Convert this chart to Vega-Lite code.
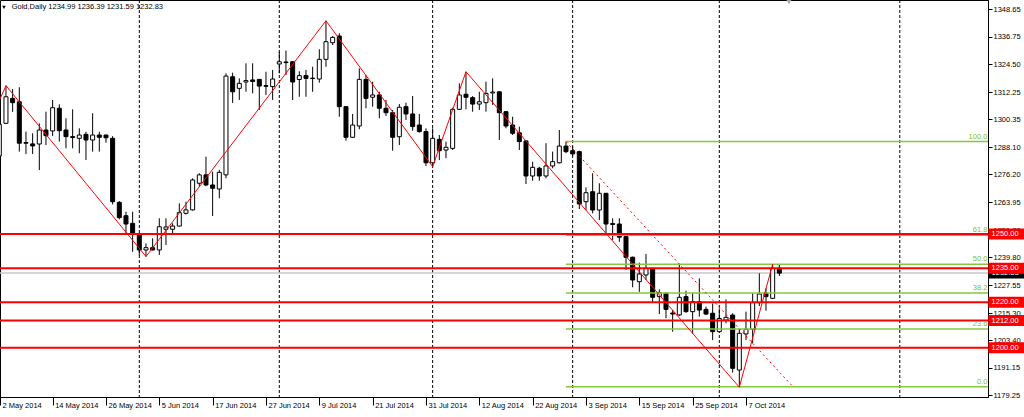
{
  "$schema": "https://vega.github.io/schema/vega-lite/v6.json",
  "width": 988,
  "height": 397,
  "autosize": {"type": "none"},
  "padding": {"left": 0, "top": 0, "right": 36, "bottom": 20},
  "background": "white",
  "config": {"view": {"stroke": "black", "strokeWidth": 1}, "font": "Liberation Sans",
    "scale": {"continuousPadding": 0},
    "axis": {"grid": false, "labelFontSize": 7.5, "labelColor": "#000000", "labelFont": "Liberation Sans", "domainColor": "#000000", "tickColor": "#000000", "labelOverlap": false, "labelFlush": false, "labelBound": false}},
  "datasets": {
    "candles": [
      {"i":0,"o":1284.3,"h":1299.0,"l":1283.0,"c":1298.2},
      {"i":1,"o":1298.65,"h":1315.2,"l":1298.4,"c":1310.3},
      {"i":2,"o":1309.6,"h":1313.7,"l":1303.7,"c":1307.7},
      {"i":3,"o":1308.1,"h":1314.5,"l":1286.2,"c":1289.9},
      {"i":4,"o":1290.2,"h":1295.0,"l":1285.2,"c":1289.9},
      {"i":5,"o":1289.6,"h":1294.25,"l":1285.2,"c":1288.7},
      {"i":6,"o":1289.55,"h":1298.65,"l":1278.1,"c":1295.7},
      {"i":7,"o":1295.7,"h":1303.75,"l":1289.1,"c":1293.2},
      {"i":8,"o":1295.3,"h":1308.9,"l":1293.1,"c":1305.5},
      {"i":9,"o":1305.25,"h":1307.0,"l":1290.6,"c":1295.4},
      {"i":10,"o":1295.7,"h":1300.85,"l":1287.65,"c":1292.8},
      {"i":11,"o":1292.8,"h":1304.8,"l":1287.65,"c":1292.4},
      {"i":12,"o":1292.05,"h":1296.45,"l":1285.5,"c":1293.5},
      {"i":13,"o":1293.8,"h":1294.95,"l":1282.5,"c":1291.3},
      {"i":14,"o":1291.3,"h":1303.05,"l":1286.2,"c":1293.5},
      {"i":15,"o":1293.5,"h":1294.95,"l":1286.2,"c":1292.5},
      {"i":16,"o":1293.5,"h":1293.6,"l":1290.1,"c":1292.3},
      {"i":17,"o":1292.05,"h":1293.0,"l":1263.0,"c":1264.2},
      {"i":18,"o":1263.9,"h":1264.5,"l":1256.5,"c":1257.2},
      {"i":19,"o":1258.05,"h":1259.8,"l":1250.3,"c":1254.4},
      {"i":20,"o":1254.7,"h":1259.8,"l":1242.2,"c":1250.0},
      {"i":21,"o":1250.0,"h":1250.5,"l":1240.6,"c":1243.0},
      {"i":22,"o":1243.0,"h":1245.9,"l":1240.1,"c":1244.0},
      {"i":23,"o":1244.0,"h":1248.1,"l":1242.8,"c":1243.0},
      {"i":24,"o":1243.0,"h":1256.9,"l":1240.8,"c":1253.2},
      {"i":25,"o":1252.1,"h":1256.9,"l":1245.2,"c":1253.1},
      {"i":26,"o":1252.1,"h":1254.7,"l":1250.3,"c":1253.5},
      {"i":27,"o":1253.5,"h":1263.5,"l":1253.3,"c":1259.4},
      {"i":28,"o":1259.1,"h":1264.2,"l":1258.6,"c":1260.6},
      {"i":29,"o":1260.6,"h":1274.5,"l":1260.3,"c":1273.75},
      {"i":30,"o":1272.3,"h":1276.7,"l":1270.8,"c":1276.0},
      {"i":31,"o":1276.0,"h":1284.0,"l":1271.0,"c":1271.55},
      {"i":32,"o":1271.55,"h":1277.4,"l":1257.9,"c":1270.1},
      {"i":33,"o":1269.8,"h":1278.2,"l":1265.7,"c":1277.1},
      {"i":34,"o":1276.0,"h":1320.6,"l":1274.5,"c":1319.4},
      {"i":35,"o":1319.1,"h":1320.9,"l":1307.6,"c":1312.5},
      {"i":36,"o":1314.0,"h":1318.4,"l":1308.9,"c":1316.2},
      {"i":37,"o":1316.8,"h":1325.0,"l":1312.5,"c":1317.4},
      {"i":38,"o":1317.7,"h":1325.0,"l":1311.8,"c":1317.0},
      {"i":39,"o":1317.95,"h":1318.0,"l":1304.5,"c":1315.0},
      {"i":40,"o":1315.2,"h":1321.3,"l":1311.1,"c":1314.9},
      {"i":41,"o":1314.75,"h":1322.1,"l":1308.9,"c":1318.1},
      {"i":42,"o":1324.7,"h":1330.1,"l":1320.6,"c":1325.7},
      {"i":43,"o":1325.6,"h":1330.6,"l":1319.9,"c":1325.3},
      {"i":44,"o":1325.7,"h":1325.9,"l":1308.9,"c":1316.8},
      {"i":45,"o":1317.9,"h":1321.5,"l":1310.3,"c":1319.6},
      {"i":46,"o":1319.6,"h":1322.1,"l":1310.3,"c":1318.4},
      {"i":47,"o":1318.5,"h":1323.5,"l":1312.5,"c":1318.3},
      {"i":48,"o":1318.1,"h":1331.2,"l":1316.5,"c":1326.75},
      {"i":49,"o":1326.75,"h":1343.7,"l":1323.5,"c":1334.5},
      {"i":50,"o":1334.05,"h":1337.0,"l":1333.05,"c":1336.4},
      {"i":51,"o":1337.0,"h":1338.2,"l":1301.55,"c":1305.95},
      {"i":52,"o":1305.95,"h":1306.2,"l":1291.0,"c":1292.5},
      {"i":53,"o":1292.5,"h":1302.75,"l":1292.2,"c":1297.9},
      {"i":54,"o":1297.45,"h":1322.8,"l":1296.0,"c":1317.95},
      {"i":55,"o":1317.95,"h":1319.9,"l":1305.25,"c":1309.6},
      {"i":56,"o":1310.1,"h":1316.95,"l":1305.95,"c":1311.1},
      {"i":57,"o":1311.1,"h":1312.5,"l":1300.85,"c":1305.25},
      {"i":58,"o":1305.25,"h":1308.9,"l":1301.85,"c":1303.3},
      {"i":59,"o":1303.3,"h":1304.5,"l":1286.6,"c":1292.5},
      {"i":60,"o":1292.75,"h":1307.1,"l":1289.1,"c":1305.7},
      {"i":61,"o":1305.95,"h":1307.7,"l":1300.1,"c":1302.75},
      {"i":62,"o":1302.75,"h":1310.65,"l":1295.4,"c":1297.2},
      {"i":63,"o":1297.9,"h":1302.75,"l":1294.55,"c":1295.0},
      {"i":64,"o":1295.0,"h":1296.45,"l":1279.9,"c":1281.3},
      {"i":65,"o":1281.3,"h":1296.45,"l":1279.6,"c":1292.05},
      {"i":66,"o":1291.6,"h":1293.5,"l":1282.5,"c":1286.6},
      {"i":67,"o":1286.9,"h":1290.6,"l":1283.3,"c":1288.1},
      {"i":68,"o":1287.65,"h":1305.5,"l":1286.9,"c":1304.8},
      {"i":69,"o":1304.8,"h":1316.2,"l":1304.5,"c":1311.1},
      {"i":70,"o":1311.4,"h":1321.3,"l":1304.8,"c":1310.1},
      {"i":71,"o":1309.9,"h":1310.6,"l":1303.75,"c":1307.1},
      {"i":72,"o":1307.1,"h":1312.5,"l":1304.5,"c":1308.1},
      {"i":73,"o":1307.7,"h":1316.95,"l":1303.75,"c":1311.8},
      {"i":74,"o":1312.0,"h":1318.4,"l":1306.7,"c":1312.4},
      {"i":75,"o":1312.5,"h":1312.6,"l":1291.3,"c":1303.3},
      {"i":76,"o":1303.75,"h":1304.0,"l":1296.45,"c":1297.45},
      {"i":77,"o":1297.9,"h":1301.55,"l":1293.5,"c":1294.25},
      {"i":78,"o":1294.5,"h":1297.2,"l":1286.9,"c":1290.6},
      {"i":79,"o":1290.9,"h":1291.2,"l":1272.0,"c":1275.5},
      {"i":80,"o":1275.5,"h":1281.8,"l":1273.4,"c":1279.3},
      {"i":81,"o":1278.9,"h":1279.6,"l":1273.4,"c":1275.5},
      {"i":82,"o":1275.5,"h":1289.9,"l":1274.5,"c":1279.9},
      {"i":83,"o":1279.9,"h":1286.2,"l":1278.9,"c":1281.8},
      {"i":84,"o":1281.3,"h":1295.7,"l":1281.0,"c":1288.65},
      {"i":85,"o":1288.65,"h":1290.6,"l":1285.5,"c":1286.2},
      {"i":86,"o":1286.6,"h":1288.4,"l":1284.3,"c":1285.2},
      {"i":87,"o":1286.2,"h":1286.6,"l":1261.0,"c":1263.2},
      {"i":88,"o":1264.2,"h":1270.5,"l":1260.55,"c":1268.15},
      {"i":89,"o":1268.6,"h":1276.7,"l":1259.1,"c":1260.55},
      {"i":90,"o":1260.55,"h":1272.3,"l":1256.15,"c":1267.9},
      {"i":91,"o":1267.9,"h":1268.0,"l":1250.3,"c":1254.4},
      {"i":92,"o":1254.6,"h":1256.9,"l":1247.4,"c":1254.2},
      {"i":93,"o":1254.4,"h":1256.9,"l":1246.6,"c":1248.6},
      {"i":94,"o":1248.85,"h":1249.1,"l":1234.2,"c":1239.8},
      {"i":95,"o":1239.8,"h":1240.1,"l":1226.6,"c":1229.8},
      {"i":96,"o":1229.05,"h":1237.4,"l":1224.6,"c":1232.45},
      {"i":97,"o":1232.0,"h":1241.2,"l":1229.8,"c":1234.95},
      {"i":98,"o":1234.95,"h":1235.0,"l":1219.85,"c":1222.2},
      {"i":99,"o":1222.5,"h":1225.7,"l":1214.85,"c":1224.25},
      {"i":100,"o":1223.95,"h":1224.2,"l":1213.0,"c":1216.9},
      {"i":101,"o":1215.3,"h":1216.6,"l":1207.1,"c":1214.85},
      {"i":102,"o":1214.45,"h":1236.8,"l":1214.0,"c":1222.2},
      {"i":103,"o":1222.5,"h":1225.1,"l":1215.4,"c":1215.9},
      {"i":104,"o":1215.9,"h":1224.2,"l":1206.1,"c":1220.3},
      {"i":105,"o":1220.3,"h":1230.5,"l":1213.7,"c":1216.6},
      {"i":106,"o":1216.9,"h":1218.1,"l":1214.4,"c":1214.85},
      {"i":107,"o":1215.2,"h":1219.5,"l":1203.4,"c":1207.1},
      {"i":108,"o":1207.1,"h":1217.35,"l":1206.9,"c":1212.9},
      {"i":109,"o":1212.2,"h":1221.3,"l":1210.8,"c":1213.4},
      {"i":110,"o":1214.4,"h":1215.2,"l":1189.1,"c":1191.0},
      {"i":111,"o":1190.25,"h":1208.15,"l":1182.7,"c":1206.4},
      {"i":112,"o":1206.1,"h":1215.9,"l":1203.4,"c":1208.15},
      {"i":113,"o":1208.15,"h":1223.95,"l":1202.0,"c":1219.85},
      {"i":114,"o":1219.85,"h":1232.75,"l":1218.4,"c":1223.65},
      {"i":115,"o":1224.0,"h":1226.15,"l":1216.3,"c":1222.5},
      {"i":116,"o":1221.75,"h":1236.8,"l":1221.5,"c":1234.95},
      {"i":117,"o":1234.99,"h":1236.39,"l":1231.59,"c":1232.83}
    ],
    "zigzag": [
      {"i":0,"p":1308.7},{"i":1,"p":1315.2},{"i":22,"p":1240.1},{"i":49,"p":1343.7},
      {"i":65,"p":1279.6},{"i":70,"p":1321.3},{"i":111,"p":1182.7},{"i":116,"p":1236.8}
    ],
    "fib": [
      {"lvl":"100.0","p":1290.6},{"lvl":"61.8","p":1249.45},{"lvl":"50.0","p":1236.75},
      {"lvl":"38.2","p":1224.05},{"lvl":"23.6","p":1208.3},{"lvl":"0.0","p":1182.9}
    ],
    "fibline": [{"i":85,"p":1290.6},{"i":119.05,"p":1182.9}],
    "levels": [
      {"p":1250,"t":"1250.00"},{"p":1235,"t":"1235.00"},{"p":1220,"t":"1220.00"},
      {"p":1212,"t":"1212.00"},{"p":1200,"t":"1200.00"}
    ],
    "bid": [{"p":1232.83,"t":"1232.83"}],
    "grid": [{"i":21},{"i":42},{"i":65},{"i":86},{"i":108},{"i":135.07}]
  },
  "layer": [
    {
      "data": {"name": "grid"},
      "mark": {"type": "rule", "color": "#000000", "strokeWidth": 1, "strokeDash": [3, 2]},
      "encoding": {
        "x": {"field": "i", "type": "quantitative"}
      }
    },
    {
      "data": {"name": "bid"},
      "mark": {"type": "rule", "color": "#c8c8c8", "strokeWidth": 1.5},
      "encoding": {
        "y": {"field": "p", "type": "quantitative"}
      }
    },
    {
      "data": {"name": "candles"},
      "mark": {"type": "rule", "color": "#000000", "strokeWidth": 1},
      "encoding": {
        "x": {"field": "i", "type": "quantitative", "scale": {"domain": [0.105, 148.3], "nice": false, "zero": false, "padding": 0},
          "axis": {"orient": "bottom", "title": null, "grid": false, "tickCount": 40, "values": [0.11,8,16,24,32,40,48,56,64,72,80,88,96,104,112],
            "labelExpr": "['2 May 2014','14 May 2014','26 May 2014','5 Jun 2014','17 Jun 2014','27 Jun 2014','9 Jul 2014','21 Jul 2014','31 Jul 2014','12 Aug 2014','22 Aug 2014','3 Sep 2014','15 Sep 2014','25 Sep 2014','7 Oct 2014'][round(datum.value/8)]",
            "labelAlign": "left", "labelBaseline": "middle", "labelOffset": 2, "labelPadding": 0, "tickSize": 8, "labelOverlap": false}},
        "y": {"field": "l", "type": "quantitative", "scale": {"domain": [1178.4, 1352.82], "nice": false, "zero": false, "padding": 0},
          "axis": {"orient": "right", "title": null, "grid": false, "tickCount": 40,
            "values": [1348.65,1336.75,1324.5,1312.25,1300.35,1288.1,1276.2,1263.95,1251.7,1239.8,1227.55,1215.3,1203.4,1191.15,1179.25],
            "format": ".2f", "tickSize": 4, "labelPadding": 1, "labelOverlap": false}},
        "y2": {"field": "h"}
      }
    },
    {
      "data": {"name": "candles"},
      "mark": {"type": "bar", "size": 4, "stroke": "#000000", "strokeWidth": 1, "orient": "vertical"},
      "encoding": {
        "x": {"field": "i", "type": "quantitative"},
        "y": {"field": "o", "type": "quantitative"},
        "y2": {"field": "c"},
        "fill": {"condition": {"test": "datum.c > datum.o", "value": "#ffffff"}, "value": "#000000"}
      }
    },
    {
      "data": {"name": "fib"},
      "mark": {"type": "rule", "color": "#84c83c", "strokeWidth": 1.5},
      "encoding": {
        "x": {"datum": 85, "type": "quantitative"},
        "x2": {"datum": 148.3},
        "y": {"field": "p", "type": "quantitative"}
      }
    },
    {
      "data": {"name": "levels"},
      "mark": {"type": "rule", "color": "#ff0000", "strokeWidth": 2},
      "encoding": {
        "y": {"field": "p", "type": "quantitative"}
      }
    },
    {
      "data": {"name": "zigzag"},
      "mark": {"type": "line", "color": "#ff0000", "strokeWidth": 1, "clip": true},
      "encoding": {
        "x": {"field": "i", "type": "quantitative"},
        "y": {"field": "p", "type": "quantitative"}
      }
    },
    {
      "data": {"name": "fibline"},
      "mark": {"type": "line", "color": "#ff0000", "strokeWidth": 1, "strokeDash": [2, 3]},
      "encoding": {
        "x": {"field": "i", "type": "quantitative"},
        "y": {"field": "p", "type": "quantitative"}
      }
    },
    {
      "data": {"name": "fib"},
      "mark": {"type": "text", "align": "right", "baseline": "bottom", "dy": -1, "fontSize": 7.5, "font": "Liberation Sans", "color": "#7cc030"},
      "encoding": {
        "x": {"datum": 148.2, "type": "quantitative"},
        "y": {"field": "p", "type": "quantitative"},
        "text": {"field": "lvl"}
      }
    },
    {
      "data": {"name": "bid"},
      "mark": {"type": "bar", "orient": "horizontal", "size": 11, "color": "#000000", "clip": false},
      "encoding": {
        "x": {"datum": 148.35, "type": "quantitative"},
        "x2": {"datum": 154},
        "y": {"field": "p", "type": "quantitative"}
      }
    },
    {
      "data": {"name": "bid"},
      "mark": {"type": "text", "align": "left", "baseline": "middle", "fontSize": 7.5, "font": "Liberation Sans", "color": "#ffffff"},
      "encoding": {
        "x": {"datum": 148.83, "type": "quantitative"},
        "y": {"field": "p", "type": "quantitative"},
        "text": {"field": "t"}
      }
    },
    {
      "data": {"name": "levels"},
      "mark": {"type": "bar", "orient": "horizontal", "size": 11, "color": "#ff0000", "clip": false},
      "encoding": {
        "x": {"datum": 148.35, "type": "quantitative"},
        "x2": {"datum": 154},
        "y": {"field": "p", "type": "quantitative"}
      }
    },
    {
      "data": {"name": "levels"},
      "mark": {"type": "text", "align": "left", "baseline": "middle", "fontSize": 7.5, "font": "Liberation Sans", "color": "#ffffff"},
      "encoding": {
        "x": {"datum": 148.83, "type": "quantitative"},
        "y": {"field": "p", "type": "quantitative"},
        "text": {"field": "t"}
      }
    },
    {
      "data": {"values": [{"t": "Gold,Daily  1234.99 1236.39 1231.59 1232.83"}]},
      "mark": {"type": "text", "align": "left", "baseline": "middle", "fontSize": 7.5, "font": "Liberation Sans", "color": "#000000"},
      "encoding": {
        "x": {"datum": 1.85, "type": "quantitative"},
        "y": {"datum": 1349.75, "type": "quantitative"},
        "text": {"field": "t"}
      }
    },
    {
      "data": {"values": [{"k": "menu"}]},
      "mark": {"type": "point", "shape": "triangle-down", "size": 14, "filled": true, "color": "#000000", "opacity": 1},
      "encoding": {
        "x": {"datum": 0.7, "type": "quantitative"},
        "y": {"datum": 1349.6, "type": "quantitative"}
      }
    },
    {
      "data": {"values": [{"k": "shift"}]},
      "mark": {"type": "point", "shape": "triangle-down", "size": 28, "filled": true, "color": "#a8a8a8", "opacity": 1},
      "encoding": {
        "x": {"datum": 118.45, "type": "quantitative"},
        "y": {"datum": 1352.0, "type": "quantitative"}
      }
    }
  ]
}
